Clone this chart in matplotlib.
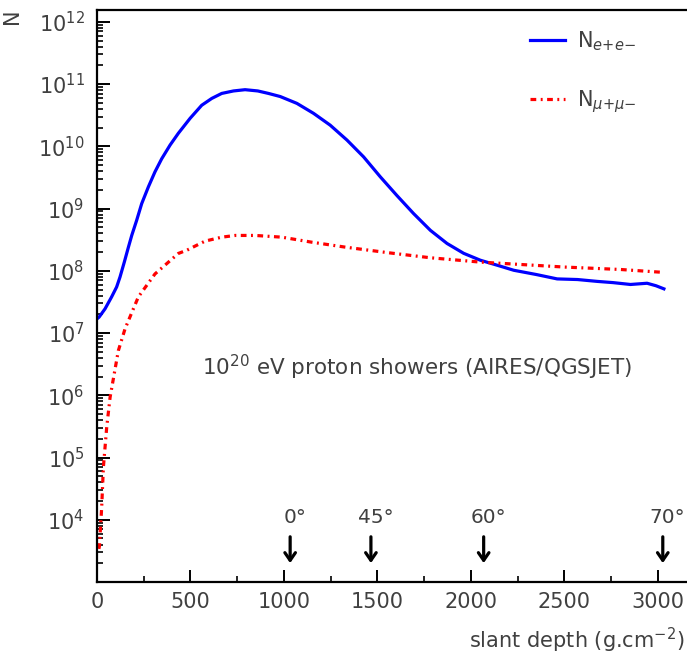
import math

import matplotlib
matplotlib.use("Agg")
import matplotlib.pyplot as plt
from matplotlib.ticker import FixedLocator, LogLocator, NullFormatter, FuncFormatter
from matplotlib.transforms import blended_transform_factory

# slant depth (g/cm2) and number of e+e- in the shower
depth_ee = [5, 11, 43, 78, 105, 123, 146, 168, 186, 212, 239, 275, 310, 346, 391,
            435, 498, 560, 614, 667, 730, 792, 860, 917, 980, 1069, 1158, 1247,
            1337, 1426, 1515, 1604, 1693, 1783, 1872, 1961, 2050, 2140, 2229,
            2350, 2461, 2570, 2675, 2760, 2853, 2942, 2990, 3032]
n_ee = [1.74e7, 1.80e7, 2.45e7, 3.80e7, 5.50e7, 7.94e7, 1.38e8, 2.40e8, 3.72e8,
        6.46e8, 1.20e9, 2.24e9, 3.89e9, 6.31e9, 1.05e10, 1.62e10, 2.82e10,
        4.57e10, 5.89e10, 7.08e10, 7.76e10, 8.13e10, 7.76e10, 7.08e10, 6.31e10,
        4.90e10, 3.39e10, 2.19e10, 1.26e10, 6.76e9, 3.24e9, 1.62e9, 8.32e8,
        4.47e8, 2.75e8, 1.91e8, 1.48e8, 1.23e8, 1.02e8, 8.71e7, 7.41e7, 7.24e7,
        6.76e7, 6.46e7, 6.03e7, 6.31e7, 5.75e7, 5.13e7]

# slant depth and number of mu+mu-
depth_mu = [10, 13, 25, 34, 52, 70, 114, 150, 168, 221, 310, 435, 480, 578, 667,
            739, 846, 989, 1149, 1328, 1559, 1783, 2050, 2497, 2800, 3014]
n_mu = [3.4e3, 3.8e3, 1.58e4, 6.9e4, 3.1e5, 9.3e5, 5.2e6, 1.17e7, 1.58e7, 3.8e7,
        8.9e7, 1.9e8, 2.14e8, 3.0e8, 3.47e8, 3.7e8, 3.7e8, 3.47e8, 2.88e8,
        2.4e8, 1.95e8, 1.62e8, 1.38e8, 1.15e8, 1.05e8, 9.5e7]

# ground level for different zenith angles
zenith_labels = ["0°", "45°", "60°", "70°"]
zenith_depth = [1033, 1465, 2068, 3026]

TXT = "#404040"

plt.rcParams["font.family"] = ["DejaVu Sans"]
plt.rcParams["mathtext.fontset"] = "dejavusans"

fig = plt.figure(figsize=(6.87, 6.6), dpi=100)
ax = fig.add_axes([0.1412, 0.1182, 0.8573, 0.8666])

ax.plot(depth_ee, n_ee, color="#0000ff", lw=2.3, label=r"N$_{e{+}e{-}}$")
ax.plot(depth_mu, n_mu, color="#ff0000", lw=2.3,
        linestyle=(0, (1.8, 1.4, 0.6, 1.4)), label=r"N$_{\mu{+}\mu{-}}$")

ax.set_yscale("log")
ax.set_xlim(0, 3150)
ax.set_ylim(1e3, 10 ** 12.19)

ax.xaxis.set_major_locator(FixedLocator([0, 500, 1000, 1500, 2000, 2500, 3000]))
ax.xaxis.set_minor_locator(FixedLocator([250, 750, 1250, 1750, 2250, 2750]))
ax.yaxis.set_major_locator(LogLocator(base=10, numticks=20))
ax.yaxis.set_minor_locator(LogLocator(base=10, subs=range(2, 10), numticks=20))
ax.yaxis.set_minor_formatter(NullFormatter())
ax.yaxis.set_major_formatter(
    FuncFormatter(lambda v, p: "" if v < 9e3 else r"$10^{%d}$" % round(math.log10(v))))

ax.tick_params(axis="both", which="major", direction="in", length=9, width=1.4,
               labelsize=15, labelcolor=TXT)
ax.tick_params(axis="both", which="minor", direction="in", length=4.5, width=1.2)
ax.tick_params(axis="x", which="major", pad=7)
ax.tick_params(axis="y", which="major", pad=9)

for side in ["left", "bottom", "top"]:
    ax.spines[side].set_linewidth(1.6)
ax.spines["right"].set_visible(False)

leg = ax.legend(loc="upper left", bbox_to_anchor=(0.735, 0.966), frameon=False,
                fontsize=15, handlelength=1.7, handletextpad=0.55,
                labelspacing=1.7, borderpad=0, borderaxespad=0)
for t in leg.get_texts():
    t.set_color(TXT)

ax.text(0.178, 0.375, r"10$^{20}$ eV proton showers (AIRES/QGSJET)",
        transform=ax.transAxes, fontsize=15.5, color=TXT, va="center")

trans = blended_transform_factory(ax.transData, ax.transAxes)
for lab, d in zip(zenith_labels, zenith_depth):
    ax.annotate("", xy=(d, 0.033), xytext=(d, 0.079), xycoords=trans,
                textcoords=trans,
                arrowprops=dict(arrowstyle="->,head_length=0.55,head_width=0.38",
                                color="black", lw=2.3, shrinkA=0, shrinkB=0))
    ax.text(d + 25, 0.112, lab, transform=trans, ha="center", va="center",
            fontsize=14.5, color=TXT)

fig.text(0.997, 0.029, r"slant depth (g.cm$^{-2}$)", ha="right", va="center",
         fontsize=15, color=TXT)
fig.text(0.018, 0.976, "N", rotation=90, ha="center", va="center",
         fontsize=15, color=TXT)

fig.savefig("out.png", dpi=100)
